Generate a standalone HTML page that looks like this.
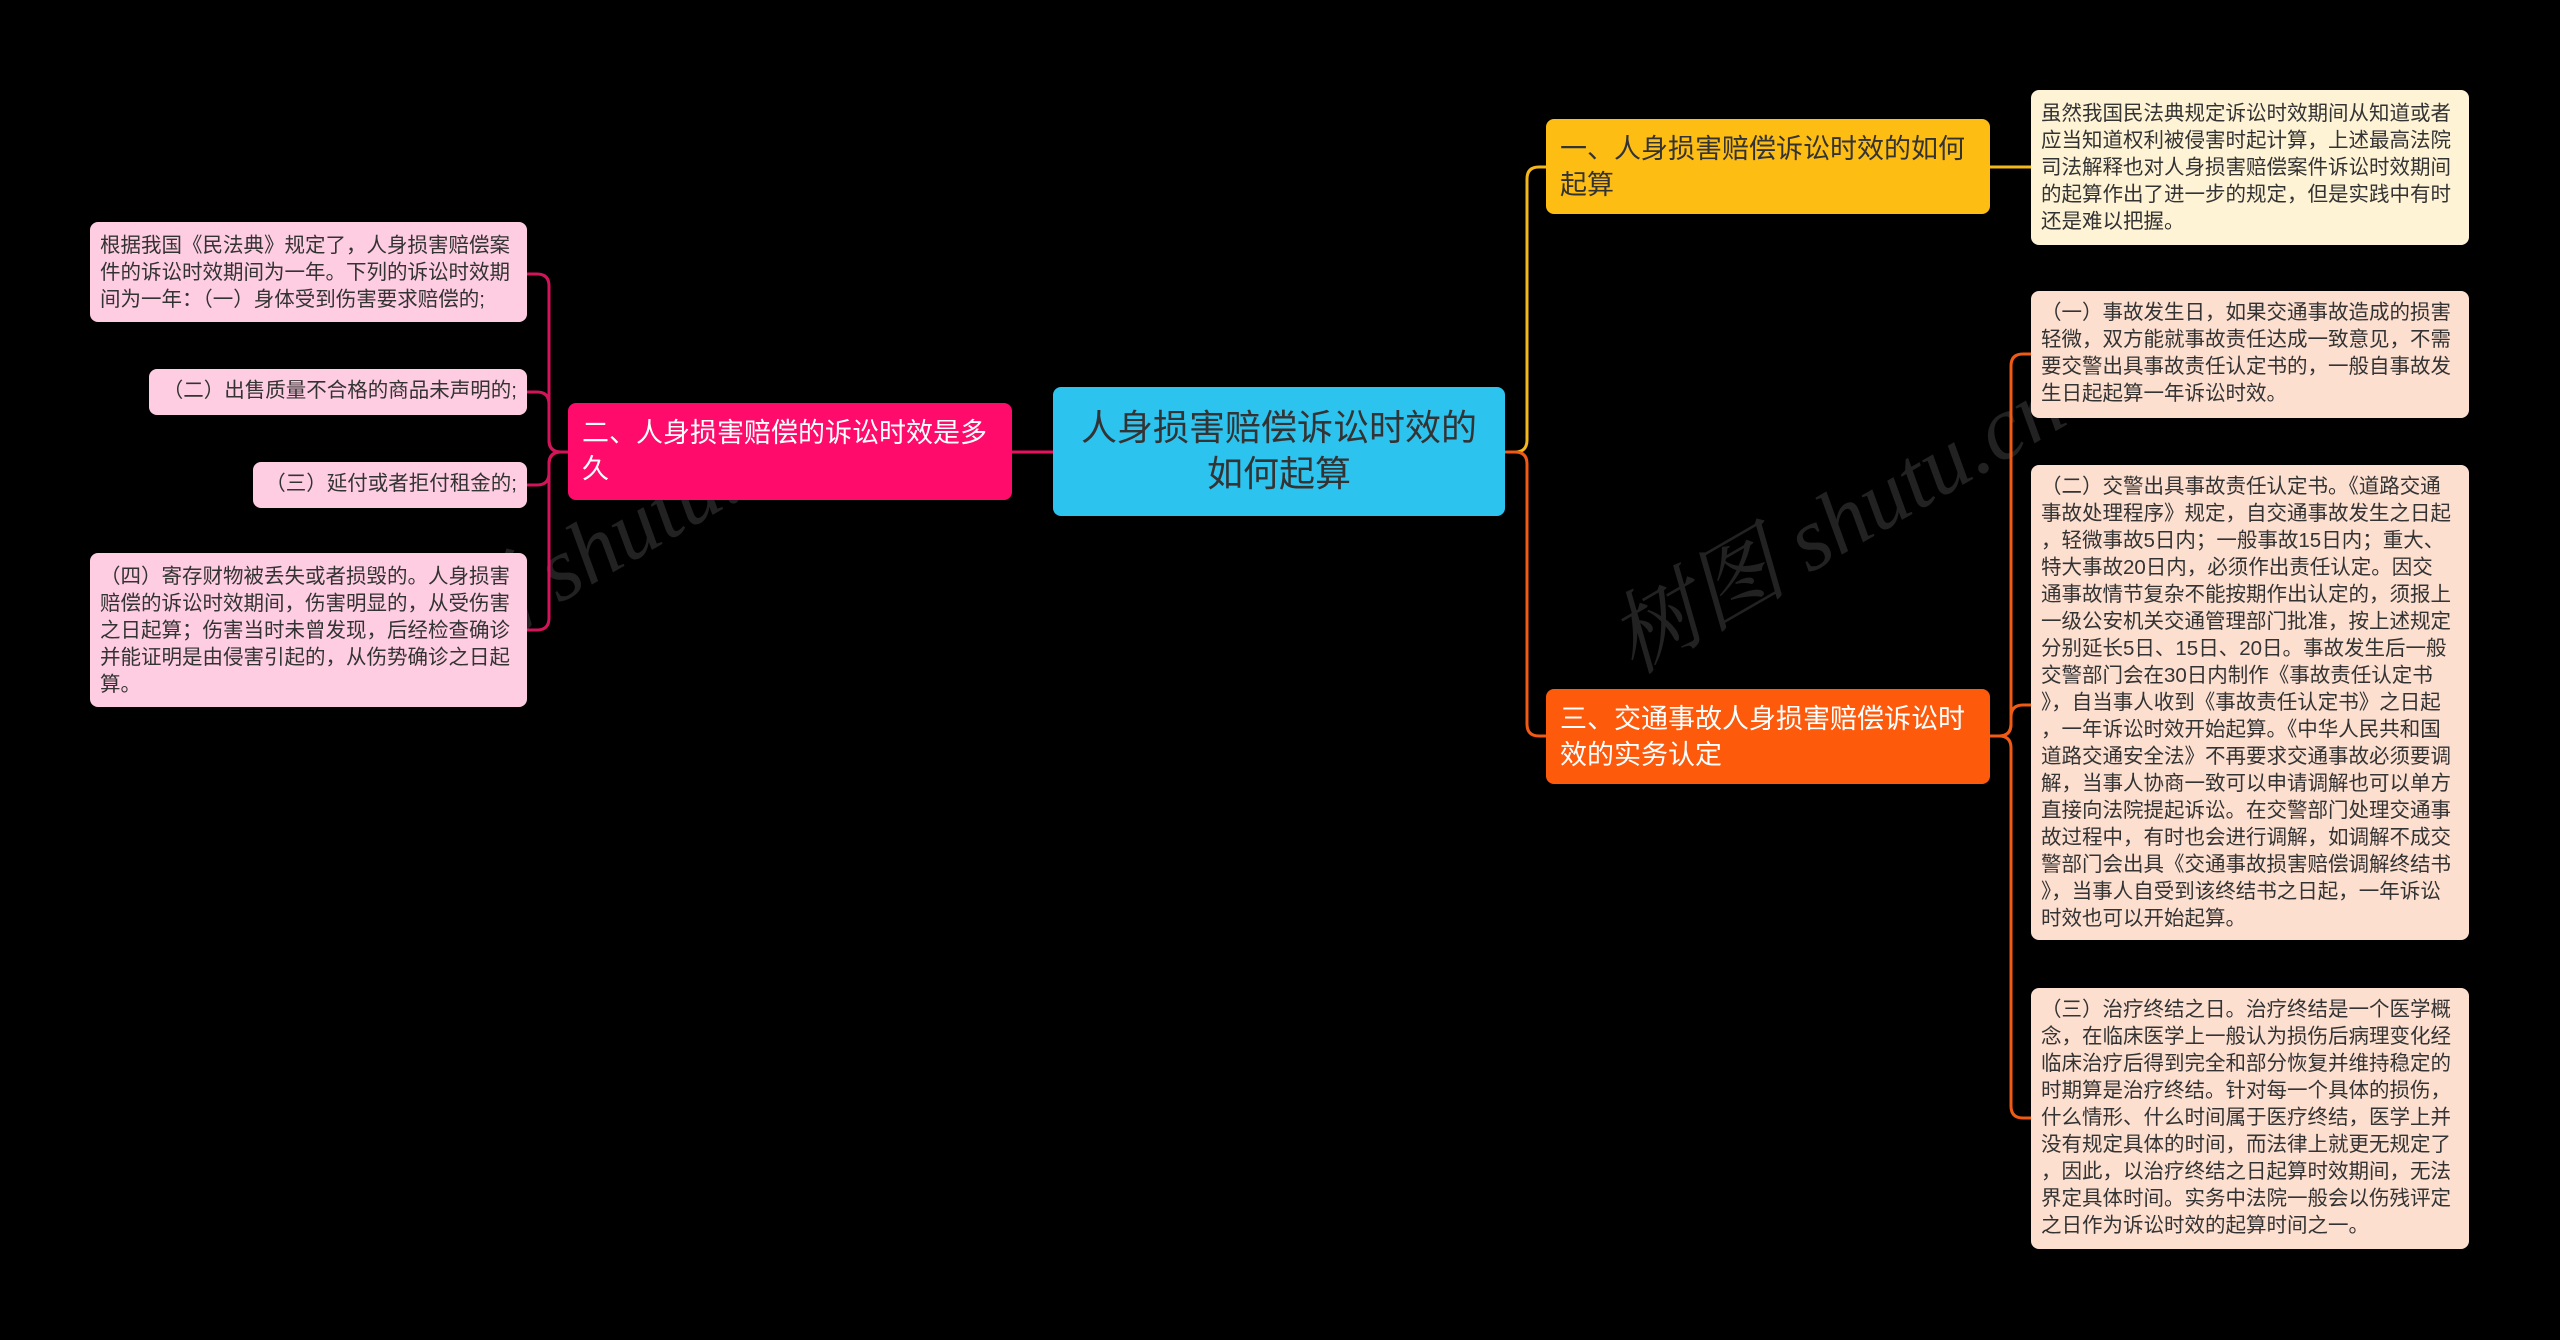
<!DOCTYPE html>
<html><head><meta charset="utf-8"><style>
body{margin:0;width:2560px;height:1340px;background:#000;overflow:hidden;position:relative;font-family:"Liberation Sans","Noto Sans CJK SC",sans-serif}
.n{position:absolute;box-sizing:border-box;border-radius:8px;white-space:nowrap}
.leaf{font-size:20.5px;line-height:27px;color:#333;padding:8px 10px}
.br{font-size:27px;line-height:36px;padding:12px 14px}
svg{position:absolute;left:0;top:0}
.wm{position:absolute;color:#222;font-size:90px;font-family:"Liberation Serif","Noto Serif CJK SC",serif;font-style:italic;transform:rotate(-30deg);white-space:nowrap}
</style></head><body>
<div class="wm" style="left:330px;top:480px">树图 shutu.cn</div>
<div class="wm" style="left:1580px;top:450px">树图 shutu.cn</div>
<svg width="2560" height="1340" fill="none" stroke-width="3">
<path d="M1053 452 H1012" stroke="#e8115f"/>
<g stroke="#d4145a">
<path d="M568 452 H561 Q549 452 549 440 V286 Q549 274 537 274 H527"/>
<path d="M568 452 H561 Q549 452 549 440 V404 Q549 392 537 392 H527"/>
<path d="M568 452 H561 Q549 452 549 464 V473 Q549 485 537 485 H527"/>
<path d="M568 452 H561 Q549 452 549 464 V618 Q549 630 537 630 H527"/>
</g>
<path d="M1505 452 H1515 Q1527 452 1527 440 V179 Q1527 167 1539 167 H1546" stroke="#f5b81c"/>
<path d="M1990 167 H2031" stroke="#f5b81c"/>
<path d="M1505 452 H1515 Q1527 452 1527 464 V724 Q1527 736 1539 736 H1546" stroke="#f05a14"/>
<g stroke="#f05a14">
<path d="M1990 736 H1999 Q2011 736 2011 724 V366 Q2011 354 2023 354 H2031"/>
<path d="M1990 736 H1999 Q2011 736 2011 724 V717 Q2011 705 2023 705 H2031"/>
<path d="M1990 736 H1999 Q2011 736 2011 748 V1106 Q2011 1118 2023 1118 H2031"/>
</g>
</svg>
<div class="n" style="left:1053px;top:387px;width:452px;height:129px;background:#2cc3ef;color:#333;font-size:36px;line-height:46px;text-align:center;padding-top:18px">人身损害赔偿诉讼时效的<br>如何起算</div>
<div class="n br" style="left:568px;top:403px;width:444px;height:97px;background:#fe0b6b;color:#fff">二、人身损害赔偿的诉讼时效是多<br>久</div>
<div class="n br" style="left:1546px;top:119px;width:444px;height:95px;background:#fdbd12;color:#333">一、人身损害赔偿诉讼时效的如何<br>起算</div>
<div class="n br" style="left:1546px;top:689px;width:444px;height:95px;background:#fd5a0c;color:#fff">三、交通事故人身损害赔偿诉讼时<br>效的实务认定</div>

<div class="n leaf" style="left:90px;top:222px;width:437px;height:100px;background:#ffcde2;padding-top:10px">根据我国《民法典》规定了，人身损害赔偿案<br>件的诉讼时效期间为一年。下列的诉讼时效期<br>间为一年：（一）身体受到伤害要求赔偿的;</div>
<div class="n leaf" style="left:149px;top:369px;width:378px;height:46px;background:#ffcde2;text-align:right">（二）出售质量不合格的商品未声明的;</div>
<div class="n leaf" style="left:253px;top:462px;width:274px;height:46px;background:#ffcde2;text-align:right">（三）延付或者拒付租金的;</div>
<div class="n leaf" style="left:90px;top:553px;width:437px;height:154px;background:#ffcde2;padding-top:10px">（四）寄存财物被丢失或者损毁的。人身损害<br>赔偿的诉讼时效期间，伤害明显的，从受伤害<br>之日起算；伤害当时未曾发现，后经检查确诊<br>并能证明是由侵害引起的，从伤势确诊之日起<br>算。</div>

<div class="n leaf" style="left:2031px;top:90px;width:438px;height:155px;background:#fff3d6;padding-top:10px">虽然我国民法典规定诉讼时效期间从知道或者<br>应当知道权利被侵害时起计算，上述最高法院<br>司法解释也对人身损害赔偿案件诉讼时效期间<br>的起算作出了进一步的规定，但是实践中有时<br>还是难以把握。</div>
<div class="n leaf" style="left:2031px;top:291px;width:438px;height:127px;background:#fddfd0;padding-top:8px">（一）事故发生日，如果交通事故造成的损害<br>轻微，双方能就事故责任达成一致意见，不需<br>要交警出具事故责任认定书的，一般自事故发<br>生日起起算一年诉讼时效。</div>
<div class="n leaf" style="left:2031px;top:465px;width:438px;height:475px;background:#fddfd0;padding-top:8px">（二）交警出具事故责任认定书。《道路交通<br>事故处理程序》规定，自交通事故发生之日起<br>，轻微事故5日内；一般事故15日内；重大、<br>特大事故20日内，必须作出责任认定。因交<br>通事故情节复杂不能按期作出认定的，须报上<br>一级公安机关交通管理部门批准，按上述规定<br>分别延长5日、15日、20日。事故发生后一般<br>交警部门会在30日内制作《事故责任认定书<br>》，自当事人收到《事故责任认定书》之日起<br>，一年诉讼时效开始起算。《中华人民共和国<br>道路交通安全法》不再要求交通事故必须要调<br>解，当事人协商一致可以申请调解也可以单方<br>直接向法院提起诉讼。在交警部门处理交通事<br>故过程中，有时也会进行调解，如调解不成交<br>警部门会出具《交通事故损害赔偿调解终结书<br>》，当事人自受到该终结书之日起，一年诉讼<br>时效也可以开始起算。</div>
<div class="n leaf" style="left:2031px;top:988px;width:438px;height:261px;background:#fddfd0;padding-top:8px">（三）治疗终结之日。治疗终结是一个医学概<br>念，在临床医学上一般认为损伤后病理变化经<br>临床治疗后得到完全和部分恢复并维持稳定的<br>时期算是治疗终结。针对每一个具体的损伤，<br>什么情形、什么时间属于医疗终结，医学上并<br>没有规定具体的时间，而法律上就更无规定了<br>，因此，以治疗终结之日起算时效期间，无法<br>界定具体时间。实务中法院一般会以伤残评定<br>之日作为诉讼时效的起算时间之一。</div>
</body></html>
